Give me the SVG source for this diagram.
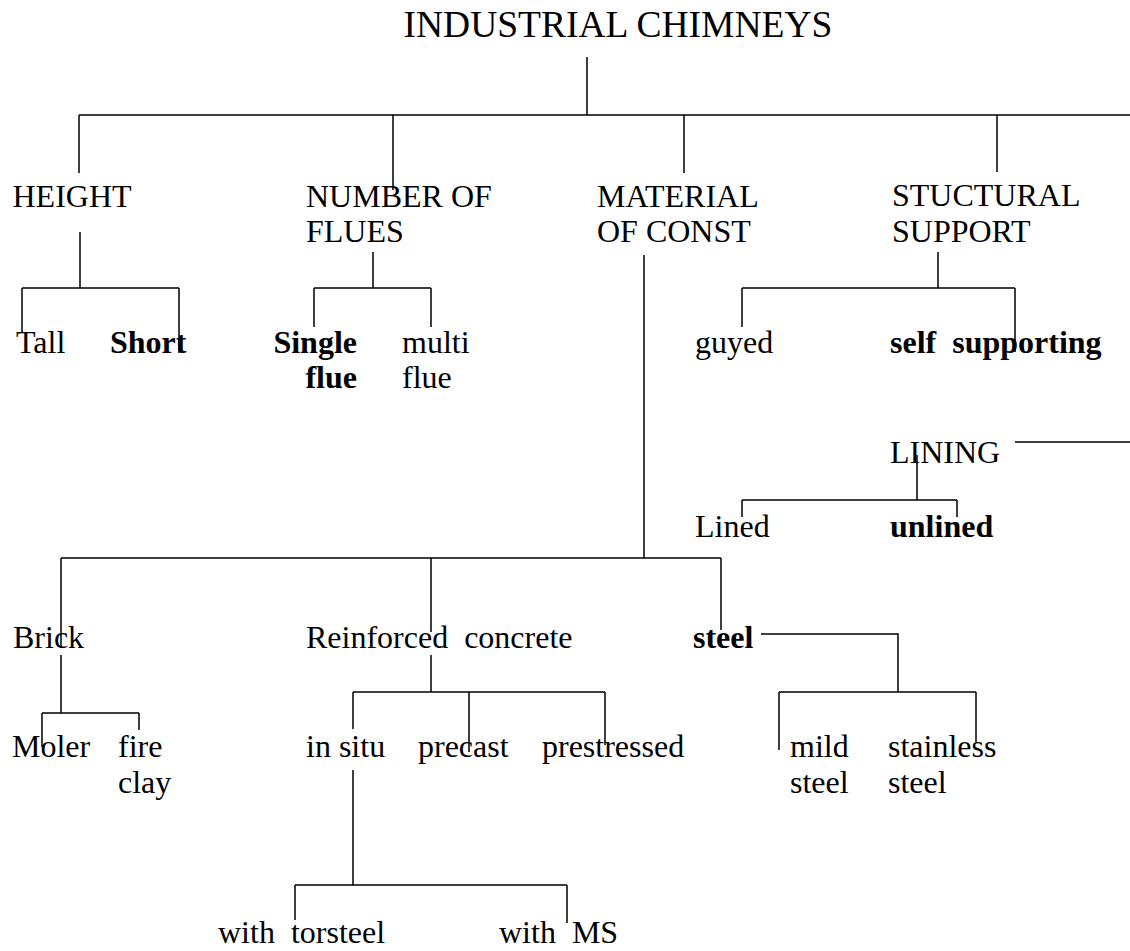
<svg xmlns="http://www.w3.org/2000/svg" width="1130" height="951" viewBox="0 0 1130 951">
<style>
text{font-family:"Liberation Serif","Times New Roman",serif;font-size:32px;fill:#000}
.b{font-weight:bold}
.t{font-size:37.5px}
.c{fill:none;stroke:#000;stroke-width:1.5}
</style>
<rect width="1130" height="951" fill="#fff"/>
<g id="connectors" class="c">
<path d="M587 57V115M79 115H1130M79 115V173M393 115V190M684 115V173M997 115V172"/>
<path d="M80 232V288M22 288H179M22 288V332M179 288V353"/>
<path d="M373 252V288M314 288H431M314 288V327M431 288V327"/>
<path d="M938 252V288M742 288H1015M742 288V327M1015 288V352"/>
<path d="M1015 442H1130M917 455V500M742 500H957M742 500V517M957 500V517"/>
<path d="M644 255V558M61 558H721M61 558V647M431 558V632M721 558V630"/>
<path d="M61 655V713M42 713H139M42 713V747M139 713V730"/>
<path d="M431 655V692M353 692H605M353 692V729M469 692V752M605 692V745"/>
<path d="M761 634H898V692M779 692H976M779 692V750M976 692V742"/>
<path d="M353 770V885M295 885H567M295 885V920M567 885V923"/>
</g>
<g id="title"><text class="t" x="403.5" y="37">INDUSTRIAL CHIMNEYS</text></g>
<g id="height"><text x="12.5" y="207">HEIGHT</text></g>
<g id="flues"><text x="306" y="207">NUMBER OF</text><text x="306" y="242">FLUES</text></g>
<g id="material"><text x="597" y="207">MATERIAL</text><text x="597" y="242">OF CONST</text></g>
<g id="structural"><text x="892" y="206">STUCTURAL</text><text x="892" y="242">SUPPORT</text></g>
<g id="tall"><text x="16" y="353">Tall</text></g>
<g id="short"><text class="b" x="110" y="353">Short</text></g>
<g id="single"><text class="b" x="357" y="353" text-anchor="end">Single</text><text class="b" x="357" y="388" text-anchor="end">flue</text></g>
<g id="multi"><text x="402" y="353">multi</text><text x="402" y="388">flue</text></g>
<g id="guyed"><text x="695" y="353">guyed</text></g>
<g id="selfsupporting"><text class="b" x="890" y="353" xml:space="preserve">self  supporting</text></g>
<g id="lining"><text x="890" y="463">LINING</text></g>
<g id="lined"><text x="695" y="537">Lined</text></g>
<g id="unlined"><text class="b" x="890" y="537">unlined</text></g>
<g id="brick"><text x="13" y="648">Brick</text></g>
<g id="rc"><text x="306" y="648" xml:space="preserve">Reinforced  concrete</text></g>
<g id="steel"><text class="b" x="693" y="648">steel</text></g>
<g id="moler"><text x="12" y="757">Moler</text></g>
<g id="fireclay"><text x="118" y="757">fire</text><text x="118" y="793">clay</text></g>
<g id="insitu"><text x="306" y="757">in situ</text></g>
<g id="precast"><text x="418" y="757">precast</text></g>
<g id="prestressed"><text x="542" y="757">prestressed</text></g>
<g id="mildsteel"><text x="790" y="757">mild</text><text x="790" y="793">steel</text></g>
<g id="stainless"><text x="888" y="757">stainless</text><text x="888" y="793">steel</text></g>
<g id="torsteel"><text x="218" y="943" xml:space="preserve">with  torsteel</text></g>
<g id="ms"><text x="499" y="943" xml:space="preserve">with  MS</text></g>
</svg>
